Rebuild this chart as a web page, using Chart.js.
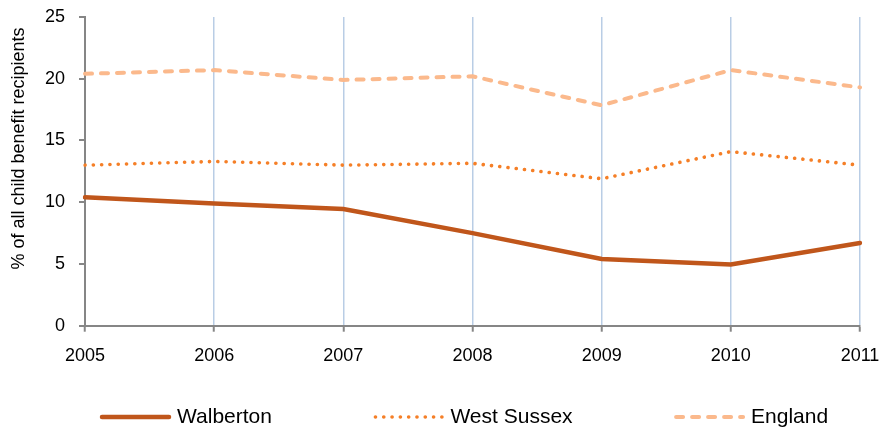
<!DOCTYPE html>
<html><head><meta charset="utf-8">
<script src="https://cdn.jsdelivr.net/npm/chart.js@4.4.1/dist/chart.umd.min.js"></script>
<style>html,body{margin:0;padding:0;background:#fff}#wrap{width:885px;height:429px}</style>
</head><body><div id="wrap"><canvas id="c"></canvas></div>
<script>
const years = ['2005','2006','2007','2008','2009','2010','2011'];
const walberton = [10.4, 9.9, 9.45, 7.5, 5.4, 4.95, 6.7];
const westSussex = [13.0, 13.3, 13.0, 13.15, 11.9, 14.1, 13.0];
const england = [20.4, 20.7, 19.9, 20.2, 17.85, 20.7, 19.3];
const yTicks = [0, 5, 10, 15, 20, 25];
const yTitle = '% of all child benefit recipients';

const FONT = '"Liberation Sans", Arial, sans-serif';
Chart.defaults.font.family = FONT;
Chart.defaults.color = '#000';

const customLegend = {
  id: 'customLegend',
  afterDraw(chart) {
    const ctx = chart.ctx;
    ctx.save();
    // y-axis title
    ctx.save();
    ctx.font = '18px ' + FONT;
    ctx.fillStyle = '#000';
    ctx.textAlign = 'center';
    ctx.textBaseline = 'middle';
    ctx.translate(19, 148.5);
    ctx.rotate(-Math.PI / 2);
    ctx.fillText(yTitle, 0, 0);
    ctx.restore();
    // legend
    ctx.font = '21px ' + FONT;
    ctx.textBaseline = 'middle';
    ctx.textAlign = 'left';
    let x = 100; const y = 417;
    chart.data.datasets.forEach(ds => {
      ctx.strokeStyle = ds.borderColor;
      ctx.lineWidth = ds.borderWidth;
      ctx.lineCap = ds.borderCapStyle || 'butt';
      ctx.setLineDash(ds.borderDash || []);
      ctx.beginPath();
      ctx.moveTo(x + 2, y);
      ctx.lineTo(x + 69, y);
      ctx.stroke();
      ctx.setLineDash([]);
      ctx.fillStyle = '#000';
      ctx.fillText(ds.label, x + 77, y);
      x += 77 + ctx.measureText(ds.label).width + 101.5;
    });
    ctx.restore();
  }
};

new Chart(document.getElementById('c'), {
  type: 'line',
  data: {
    labels: years,
    datasets: [
      {label:'Walberton', data: walberton, borderColor:'#C0561B', backgroundColor:'#C0561B', borderWidth:4.5, pointRadius:0, tension:0, borderCapStyle:'round'},
      {label:'West Sussex', data: westSussex, borderColor:'#F57F27', backgroundColor:'#F57F27', borderWidth:3.6, borderDash:[0.1,8.2], borderCapStyle:'round', pointRadius:0, tension:0},
      {label:'England', data: england, borderColor:'#FBB98C', backgroundColor:'#FBB98C', borderWidth:4, borderDash:[7,9], borderCapStyle:'round', pointRadius:0, tension:0}
    ]
  },
  plugins: [customLegend],
  options: {
    responsive:true, maintainAspectRatio:false, animation:false,
    layout:{padding:{left:0, right:25, top:17, bottom:0}},
    plugins:{
      tooltip:{enabled:false},
      legend:{display:false}
    },
    scales:{
      x:{
        offset:false,
        afterFit: s => { s.height = 103.3; s.paddingLeft = 0; s.paddingRight = 0; },
        grid:{color:'#B9CDE5', lineWidth:1.5, tickLength:6, tickColor:'#868686', tickWidth:2},
        border:{color:'#868686', width:2},
        ticks:{padding:14, font:{size:18}, maxRotation:0}
      },
      y:{
        min:0, max:25,
        afterBuildTicks: s => { s.ticks = yTicks.map(v => ({value:v})); },
        afterFit: s => { s.width = 85; s.paddingTop = 0; s.paddingBottom = 0; },
        grid:{drawOnChartArea:false, tickLength:6, tickColor:'#868686', lineWidth:2},
        border:{color:'#868686', width:2},
        ticks:{padding:14, font:{size:18}}
      }
    }
  }
});
</script></body></html>
